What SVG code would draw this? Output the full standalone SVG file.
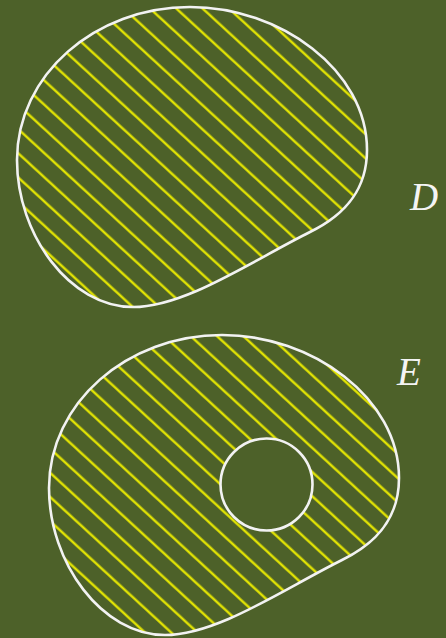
<svg xmlns="http://www.w3.org/2000/svg" width="446" height="638" viewBox="0 0 446 638">
  <style>
    .outline { stroke: #f2f2f2; stroke-width: 2.6; }
    .region { fill: url(#hatch); }
    .label { font-family: "Liberation Serif", "DejaVu Serif", serif; font-style: italic; font-size: 39px; fill: #f4f4f4; }
  </style>
  <defs>
    <pattern id="hatch" patternUnits="userSpaceOnUse" width="40" height="17.8" patternTransform="rotate(42.6)">
      <rect x="0" y="0" width="40" height="17.8" fill="#4d6129"/>
      <line x1="-1" y1="11.5" x2="41" y2="11.5" stroke="#eeee00" stroke-width="2.3"/>
    </pattern>
  </defs>
  <rect x="0" y="0" width="446" height="638" fill="#4d6129"/>

  <g id="D">
    <path class="region outline" d="M 17,160 C 17,75 95,7 190,7 C 280,7 367,70 367,150 C 367,190 345,215 310,232 C 250,262 185,307 133,307 C 70,307 17,235 17,160 Z"/>
    <text class="label" x="410" y="210">D</text>
  </g>

  <g id="E">
    <path class="region outline" d="M 49,488 C 49,403 127,335 222,335 C 312,335 399,398 399,478 C 399,518 377,543 342,560 C 282,590 217,635 165,635 C 102,635 49,563 49,488 Z"/>
    <circle class="outline" cx="266.5" cy="484.5" r="46" fill="#4d6129"/>
    <text class="label" x="397" y="385">E</text>
  </g>
</svg>
